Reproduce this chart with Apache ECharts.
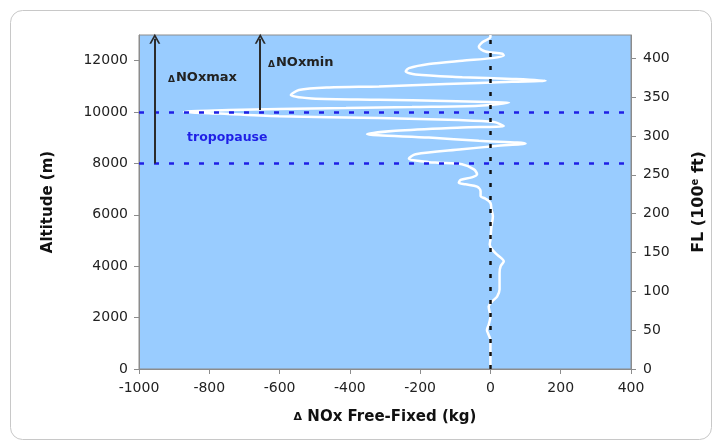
<!DOCTYPE html>
<html>
<head>
<meta charset="utf-8">
<script src="https://cdn.jsdelivr.net/npm/echarts@6/dist/echarts.min.js"></script>
<style>
html,body{margin:0;padding:0;background:#fff}
#main{width:715px;height:443px}
</style>
</head>
<body>
<div id="main"></div>
<script>
// profile, bottom to top
var altitude=[0,1130,1330,1520,1720,2040,2430,2630,2820,3090,3740,4000,4190,4450,4650,4840,5040,5560,5950,6210,6470,6630,6730,6930,7100,7190,7250,7360,7460,7580,7770,7970,8030,8050,8190,8360,8550,8680,8780,8880,9010,9140,9270,9400,9460,9610,9690,9770,9840,9940,10010,10080,10120,10160,10200,10250,10370,10390,10430,10480,10530,10660,10860,10960,11000,11090,11180,11220,11290,11360,11460,11590,11710,11870,12000,12100,12200,12270,12360,12530,12720,12920,13000]
var deltaNOx=[0,0,-5,-10,-5,0,-5,5,19,26,26,29,38,19,5,-2,0,3,7,3,0,-14,-28,-28,-38,-71,-90,-85,-53,-38,-47,-81,-147,-175,-232,-213,-81,15,100,-33,-175,-351,-270,-81,38,10,-90,-317,-602,-772,-872,-744,-602,-411,-223,-33,53,-4,-127,-317,-508,-568,-545,-459,-317,-127,62,157,62,-80,-213,-241,-232,-175,-80,5,38,34,-14,-33,-23,0,0]
var tropopause=[8000,10000]
var arrowMax={x:-955,from:8000,to:12850}
var arrowMin={x:-655,from:10080,to:12850}

var profile=[]
for(var i=0;i<altitude.length;i++){
    profile.push([deltaNOx[i],altitude[i]])
}

function plain(v){return String(v)}
var labelFont={fontFamily:'DejaVu Sans',fontSize:14,color:'#222',formatter:plain}
var chevron='path://M0,10 L5,0 L10,10 L8.3,10 L5,3.4 L1.7,10 Z'

var myChart=echarts.init(document.getElementById('main'))
var option={
    animation:false,
    backgroundColor:'#fff',
    grid:{
        left:139,right:82,top:35,bottom:74,
        show:true,
        backgroundColor:'#99ccff',
        borderColor:'#8c8c8c',
        borderWidth:1
    },
    xAxis:{
        type:'value',
        min:-1000,max:400,interval:200,
        splitLine:{show:false},
        axisLine:{onZero:false,lineStyle:{color:'#8c8c8c'}},
        axisTick:{show:true,length:5,lineStyle:{color:'#8c8c8c'}},
        axisLabel:Object.assign({margin:12},labelFont),
        name:'{d|Δ} NOx Free-Fixed (kg)',
        nameLocation:'middle',
        nameGap:41,
        nameTextStyle:{
            fontFamily:'DejaVu Sans',fontSize:15,fontWeight:'bold',color:'#111',
            rich:{d:{fontFamily:'DejaVu Sans',fontSize:11,fontWeight:'bold',color:'#111'}}
        }
    },
    yAxis:[
        {
            type:'value',
            min:0,max:13000,interval:2000,
            splitLine:{show:false},
            axisLine:{show:true,onZero:false,lineStyle:{color:'#8c8c8c'}},
            axisTick:{show:true,length:5,lineStyle:{color:'#8c8c8c'}},
            axisLabel:Object.assign({margin:11,showMaxLabel:false},labelFont),
            name:'Altitude (m)',
            nameLocation:'middle',
            nameGap:83,
            nameTextStyle:{fontFamily:'DejaVu Sans',fontSize:15,fontWeight:'bold',color:'#111'}
        },
        {
            type:'value',
            position:'right',
            min:0,max:430,interval:50,
            splitLine:{show:false},
            axisLine:{show:true,onZero:false,lineStyle:{color:'#8c8c8c'}},
            axisTick:{show:true,length:5,lineStyle:{color:'#8c8c8c'}},
            axisLabel:Object.assign({margin:12,showMaxLabel:false},labelFont),
            name:'FL (100{s|e} ft)',
            nameLocation:'middle',
            nameGap:59,
            nameTextStyle:{
                fontFamily:'DejaVu Sans',fontSize:16,fontWeight:'bold',color:'#111',
                rich:{s:{fontFamily:'DejaVu Sans',fontSize:10,fontWeight:'bold',color:'#111',verticalAlign:'top',padding:[0,0,8,0]}}
            }
        }
    ],
    series:[
        {
            name:'profile',
            type:'line',
            data:profile,
            showSymbol:false,
            smooth:0.3,
            z:2,
            lineStyle:{color:'#fff',width:2.5}
        },
        {
            name:'refs',
            type:'line',
            data:[],
            z:5,
            markLine:{
                silent:true,
                symbol:['none','none'],
                label:{show:false},
                data:[
                    {yAxis:tropopause[0],lineStyle:{color:'#1f1fe6',type:[5,10],width:2.5}},
                    {yAxis:tropopause[1],lineStyle:{color:'#1f1fe6',type:[5,10],width:2.5}},
                    {xAxis:0,lineStyle:{color:'#111',type:[4,9],width:2.5}},
                    [
                        {coord:[arrowMax.x,arrowMax.from],symbol:'none'},
                        {coord:[arrowMax.x,arrowMax.to],symbol:chevron,symbolSize:[11,10],lineStyle:{color:'#2b2b2b',type:'solid',width:2}}
                    ],
                    [
                        {coord:[arrowMin.x,arrowMin.from],symbol:'none'},
                        {coord:[arrowMin.x,arrowMin.to],symbol:chevron,symbolSize:[11,10],lineStyle:{color:'#2b2b2b',type:'solid',width:2}}
                    ]
                ]
            }
        }
    ],
    graphic:[
        {
            type:'rect',
            shape:{x:10.5,y:10.5,width:701,height:429,r:12},
            style:{fill:'none',stroke:'#c8c8c8',lineWidth:1},
            silent:true,z:-1
        },
        {
            type:'text',left:168,top:71,z:10,
            style:{
                text:'{d|Δ}{b|NOxmax}',
                rich:{
                    d:{fontFamily:'DejaVu Sans',fontSize:9,fontWeight:'bold',fill:'#222',padding:[4,1,0,0]},
                    b:{fontFamily:'DejaVu Sans',fontSize:13,fontWeight:'bold',fill:'#222'}
                }
            }
        },
        {
            type:'text',left:268,top:56,z:10,
            style:{
                text:'{d|Δ}{b|NOxmin}',
                rich:{
                    d:{fontFamily:'DejaVu Sans',fontSize:9,fontWeight:'bold',fill:'#222',padding:[4,1,0,0]},
                    b:{fontFamily:'DejaVu Sans',fontSize:13,fontWeight:'bold',fill:'#222'}
                }
            }
        },
        {
            type:'text',left:187,top:131,z:10,
            style:{text:'tropopause',fontFamily:'DejaVu Sans',fontSize:12.5,fontWeight:'bold',fill:'#1f1fe6'}
        }
    ]
}
myChart.setOption(option)
</script>
</body>
</html>
